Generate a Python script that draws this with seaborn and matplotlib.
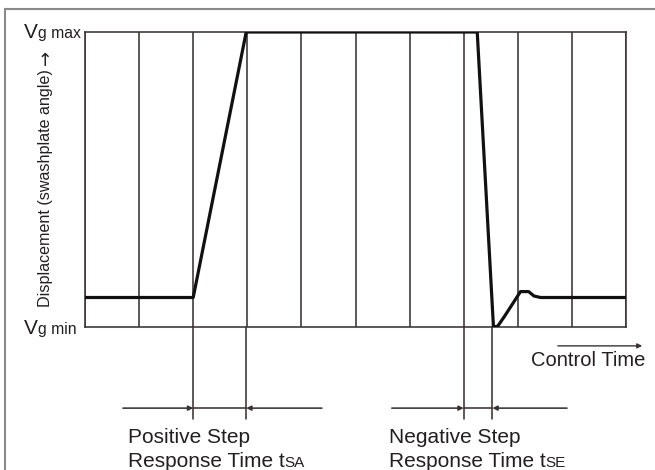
import matplotlib
matplotlib.use("Agg")
import matplotlib.pyplot as plt
from matplotlib.lines import Line2D
import seaborn as sns
import pandas as pd

# ---- data ----
grid_x = [0, 1, 2, 3, 4, 5, 6, 7, 8, 9, 10]
curve_x = [0, 2.0, 2.98, 7.25, 7.55, 7.63, 7.75, 8.05, 8.2, 8.3, 8.42, 10]
curve_y = [0.1, 0.1, 1.0, 1.0, 0.0, 0.003, 0.035, 0.12, 0.12, 0.105, 0.1, 0.1]
tsa_x = [2.0, 2.98]
tse_x = [7.0, 7.53]
dim_left = [0.70, 5.67]
dim_right = [4.38, 8.91]
step_labels = ["Positive Step", "Negative Step"]
step_subs = ["SA", "SE"]
step_text_x = [0.79, 5.62]

W, H = 655, 470
sns.set_theme(style="white")
plt.rcParams["font.family"] = ["Liberation Sans", "DejaVu Sans"]

fig = plt.figure(figsize=(W / 100, H / 100), dpi=100)
x0, x1, yt, yb = 85, 626, 32, 327
ax = fig.add_axes([x0 / W, 1 - yb / H, (x1 - x0) / W, (yb - yt) / H])
ax.set_xlim(0, 10)
ax.set_ylim(0, 1)

gcol = "#3a3232"
glw = 1.15
for s in ax.spines.values():
    s.set_color(gcol)
    s.set_linewidth(glw)
ax.set_xticks([])
ax.set_yticks([])
for gx in grid_x:
    ax.axvline(gx, color=gcol, lw=glw, zorder=1)

df = pd.DataFrame({"t": curve_x, "v": curve_y})
sns.lineplot(data=df, x="t", y="v", ax=ax, color="#111111", lw=2.3,
             sort=False, estimator=None, zorder=3)
ax.set_xlabel("")
ax.set_ylabel("")

ylow = -0.312
ydim = -0.275
for pair in (tsa_x, tse_x):
    for px in pair:
        ax.plot([px, px], [0.0, ylow], color=gcol, lw=glw, clip_on=False, zorder=2)
    ax.plot([pair[0], pair[1]], [ydim, ydim], color=gcol, lw=glw, clip_on=False)

for k, pair in enumerate((tsa_x, tse_x)):
    ax.annotate("", xy=(pair[0], ydim), xytext=(dim_left[k], ydim),
                xycoords="data", annotation_clip=False,
                arrowprops=dict(arrowstyle="-|>", color=gcol, lw=glw,
                                mutation_scale=7, shrinkA=0, shrinkB=0))
    ax.annotate("", xy=(pair[1], ydim), xytext=(dim_right[k], ydim),
                xycoords="data", annotation_clip=False,
                arrowprops=dict(arrowstyle="-|>", color=gcol, lw=glw,
                                mutation_scale=7, shrinkA=0, shrinkB=0))

tcol = "#231f20"
fs = 15
for k in range(2):
    ax.text(step_text_x[k], -0.393, step_labels[k], fontsize=fs, color=tcol,
            ha="left", va="baseline", clip_on=False)
    t = ax.text(step_text_x[k], -0.475, "Response Time t", fontsize=fs,
                color=tcol, ha="left", va="baseline", clip_on=False)
    ax.annotate(step_subs[k], xy=(1, 0), xycoords=t, xytext=(-0.3, 1.0),
                textcoords="offset points", fontsize=11, color=tcol,
                ha="left", va="bottom", annotation_clip=False)

ax.annotate("", xy=(10.3, -0.064), xytext=(8.74, -0.064), annotation_clip=False,
            arrowprops=dict(arrowstyle="-|>", color=gcol, lw=1.0,
                            mutation_scale=7, shrinkA=0, shrinkB=0))
ax.text(8.24, -0.132, "Control Time", fontsize=14.5, color=tcol,
        ha="left", va="baseline", clip_on=False)

def fx(px):
    return px / W

def fy(py):
    return 1 - py / H

for base, word in ((38, "g max"), (334, "g min")):
    fig.text(fx(24), fy(base), "V", fontsize=15, color=tcol, ha="left", va="baseline")
    fig.text(fx(38.5), fy(base), word, fontsize=11.3, color=tcol, ha="left", va="baseline")

fig.text(fx(46), fy(188), "Displacement (swashplate angle)", fontsize=11.6,
         color=tcol, rotation=90, ha="center", va="center")
fig.text(fx(46), fy(57), "\u2192", fontsize=13, family="DejaVu Sans",
         color=tcol, rotation=90, ha="center", va="center")

fcol = "#8a8a8a"
fig.add_artist(Line2D([fx(5), fx(5)], [fy(9), 0], color=fcol, lw=1.5,
                      transform=fig.transFigure))
fig.add_artist(Line2D([fx(5), 1], [fy(9), fy(9)], color=fcol, lw=1.5,
                      transform=fig.transFigure))

fig.savefig("out.png", dpi=100)
